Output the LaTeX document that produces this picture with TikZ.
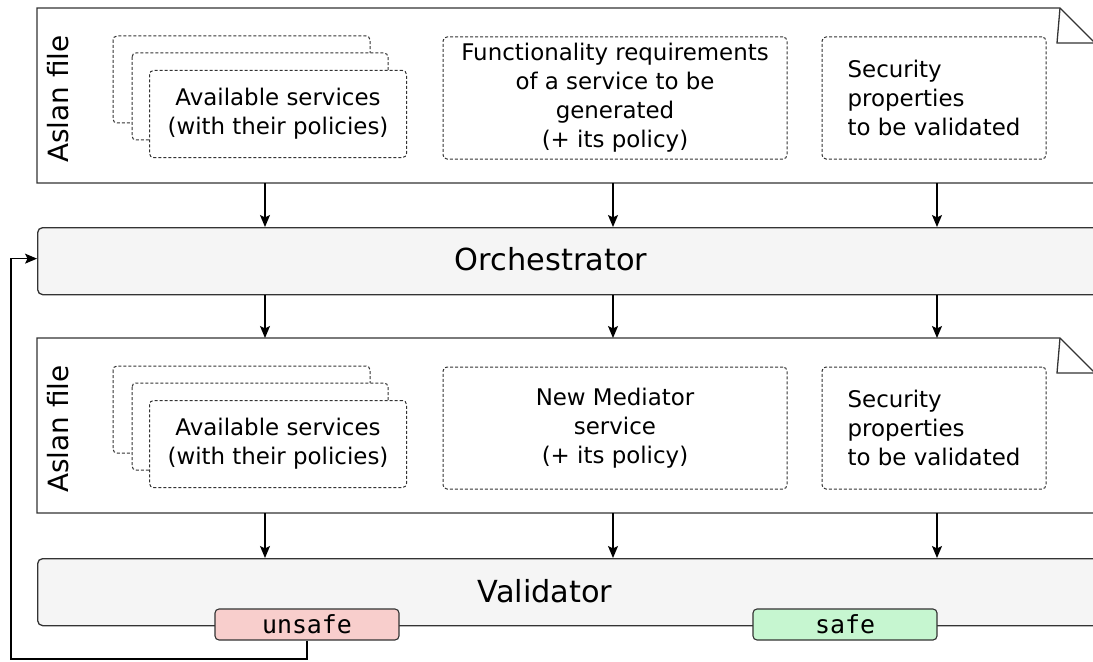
\documentclass[tikz,border=0pt]{standalone}
\usepackage{fontspec}
\setmainfont{DejaVu Sans}
\setmonofont{DejaVu Sans Mono}
\usepackage{tikz}
\usetikzlibrary{arrows.meta}
\definecolor{edge}{HTML}{333333}
\definecolor{panel}{HTML}{F5F5F5}
\definecolor{bad}{HTML}{F8CECC}
\definecolor{good}{HTML}{C6F6D0}
\tikzset{
  frame/.style={draw=edge, line width=1.3bp, line join=miter},
  dashbox/.style={draw=edge, dash pattern=on 3bp off 2bp, line width=1bp, rounded corners=4bp, fill=white},
  stage/.style={draw=edge, fill=panel, line width=1.3bp, rounded corners=5bp, inner sep=0pt},
  flag/.style={draw=edge, line width=1.1bp, rounded corners=4bp, minimum width=184bp, minimum height=31bp, inner sep=0pt, font=\ttfamily\fontsize{25}{30}\selectfont},
  arr/.style={draw=black, line width=1.2bp, -{Stealth[length=12bp,width=10bp,inset=2.5bp]}},
  txt/.style={align=center, font=\fontsize{23}{29}\selectfont},
  big/.style={inner sep=0pt, font=\fontsize{30.5}{36}\selectfont},
  side/.style={rotate=90, inner sep=0pt, font=\fontsize{28}{33}\selectfont},
}

\begin{document}
\begin{tikzpicture}[x=1bp,y=-1bp]
  \useasboundingbox (0,0) rectangle (1093,662);
  \clip (0,0) rectangle (1093,662);

  % the two Aslan files
  \foreach \dy/\n in {0/1,330/2}{
    \draw[frame] (37,8+\dy) -- (1060,8+\dy) -- (1095,43+\dy) -- (1095,183+\dy) -- (37,183+\dy) -- cycle;
    \draw[frame] (1060,8+\dy) -- (1057,43+\dy) -- (1095,43+\dy);
    \coordinate (asl\n) at (37,183+\dy);
    \coordinate (top\n) at (37,8+\dy);
    \node[side] (file\n) at (58,99+\dy) {Aslan file};
    \draw[dashbox] (113,36+\dy) rectangle ++(257,87);
    \draw[dashbox] (132,53+\dy) rectangle ++(256,87);
    \node[dashbox, txt, anchor=north west, minimum width=257bp, minimum height=87bp] (avail\n) at (149,70+\dy)
      {Available services\\(with their policies)};
    \node[dashbox, txt, align=left, minimum width=224bp, minimum height=122bp] (sec\n) at (934,98+\dy)
      {Security\\properties\\to be validated};
  }
  \node[dashbox, txt, minimum width=344bp, minimum height=122bp] (func) at (615,98)
    {Functionality requirements\\of a service to be\\generated\\(+ its policy)};
  \node[dashbox, txt, minimum width=344bp, minimum height=122bp] (med) at (615,428)
    {New Mediator\\service\\(+ its policy)};

  % stages
  \node[stage, anchor=north west, minimum width=1080bp, minimum height=67bp] (orch) at (37,227) {};
  \node[big] (orchlab) at (551,259) {Orchestrator};
  \node[stage, anchor=north west, minimum width=1080bp, minimum height=67bp] (valid) at (37,558) {};
  \node[big] (validlab) at (545,591.5) {Validator};

  \node[flag, fill=bad] (unsafe) at (307,624.5) {unsafe};
  \node[flag, fill=good] (safe) at (845,624.5) {safe};

  % arrows between the layers
  \foreach \x [count=\i] in {265,613,937}{
    \coordinate (col\i) at (\x,0);
    \draw[arr] (col\i |- asl1) -- (col\i |- orch.north);
    \draw[arr] (col\i |- orch.south) -- (col\i |- top2);
    \draw[arr] (col\i |- asl2) -- (col\i |- valid.north);
  }

  \coordinate (back) at (11,659);
  \draw[arr] (unsafe.south) |- (back) |- ([yshift=2.5bp]orch.west);
\end{tikzpicture}
\end{document}
